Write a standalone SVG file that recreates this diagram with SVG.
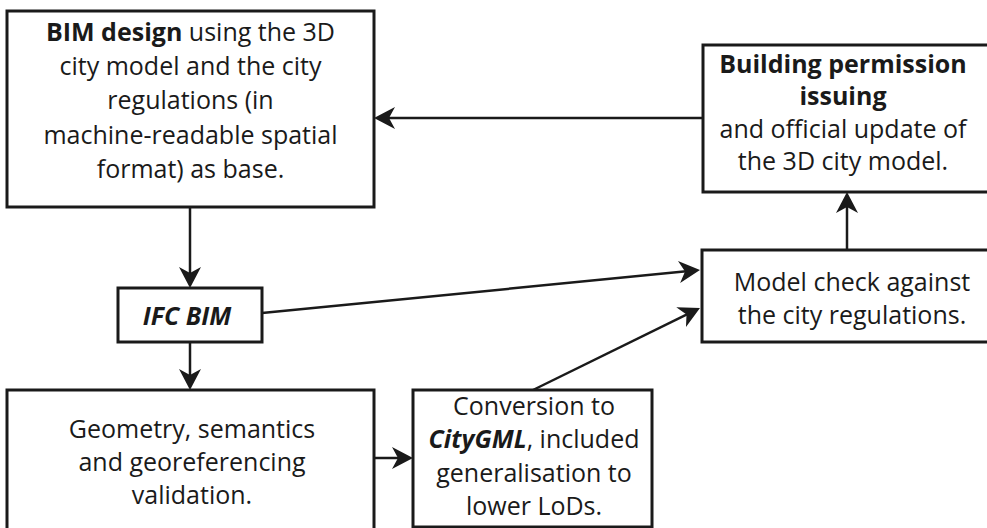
<svg xmlns="http://www.w3.org/2000/svg" width="987" height="528" viewBox="0 0 987 528">
<defs>
<style>
.box{fill:#fff;stroke:#1a1a1a;stroke-width:3}
.t{font-family:"Open Sans","Noto Sans",sans-serif;font-size:25px;fill:#1a1a1a;text-anchor:middle}
.b{font-weight:bold}
.bi{font-weight:bold;font-style:italic}
.c{fill:none;stroke:#1a1a1a;stroke-width:2.5}
</style>
<marker id="ah" markerUnits="userSpaceOnUse" markerWidth="30" markerHeight="30" viewBox="-20 -12 30 24" refX="0" refY="0" orient="auto">
<path d="M6,0 L-15,-11 L-9,0 L-15,11 Z" fill="#1a1a1a"/>
</marker>
</defs>
<rect width="987" height="528" fill="#fff"/>
<g id="connectors">
<line class="c" x1="703" y1="118" x2="380" y2="118" marker-end="url(#ah)"/>
<line class="c" x1="190" y1="207" x2="190" y2="282" marker-end="url(#ah)"/>
<line class="c" x1="190" y1="342" x2="190" y2="384" marker-end="url(#ah)"/>
<line class="c" x1="374" y1="458" x2="407" y2="458" marker-end="url(#ah)"/>
<line class="c" x1="262" y1="313" x2="694" y2="270.6" marker-end="url(#ah)"/>
<line class="c" x1="533" y1="390" x2="694.6" y2="310.6" marker-end="url(#ah)"/>
<line class="c" x1="847" y1="250" x2="847" y2="198" marker-end="url(#ah)"/>
</g>
<g id="bim-design">
<rect class="box" x="7" y="11" width="367" height="196"/>
<text class="t" x="190.5" y="41"><tspan class="b">BIM design</tspan> using the 3D</text>
<text class="t" x="190.5" y="75">city model and the city</text>
<text class="t" x="190.5" y="109">regulations (in</text>
<text class="t" x="190.5" y="144">machine-readable spatial</text>
<text class="t" x="190.5" y="178">format) as base.</text>
</g>
<g id="building-permission">
<rect class="box" x="703" y="45" width="290" height="147"/>
<text class="t b" x="843" y="73">Building permission</text>
<text class="t b" x="843" y="105">issuing</text>
<text class="t" x="843" y="138">and official update of</text>
<text class="t" x="843" y="170">the 3D city model.</text>
</g>
<g id="ifc-bim">
<rect class="box" x="118" y="288" width="144" height="54"/>
<text class="t bi" x="187" y="325">IFC BIM</text>
</g>
<g id="model-check">
<rect class="box" x="702" y="250" width="291" height="92"/>
<text class="t" x="852" y="291">Model check against</text>
<text class="t" x="852" y="324">the city regulations.</text>
</g>
<g id="validation">
<rect class="box" x="7" y="390" width="367" height="145"/>
<text class="t" x="192" y="438">Geometry, semantics</text>
<text class="t" x="192" y="471">and georeferencing</text>
<text class="t" x="192" y="504">validation.</text>
</g>
<g id="conversion">
<rect class="box" x="413" y="390" width="239" height="137"/>
<text class="t" x="534" y="415">Conversion to</text>
<text class="t" x="534" y="448"><tspan class="bi">CityGML</tspan>, included</text>
<text class="t" x="534" y="482">generalisation to</text>
<text class="t" x="534" y="515">lower LoDs.</text>
</g>
</svg>
